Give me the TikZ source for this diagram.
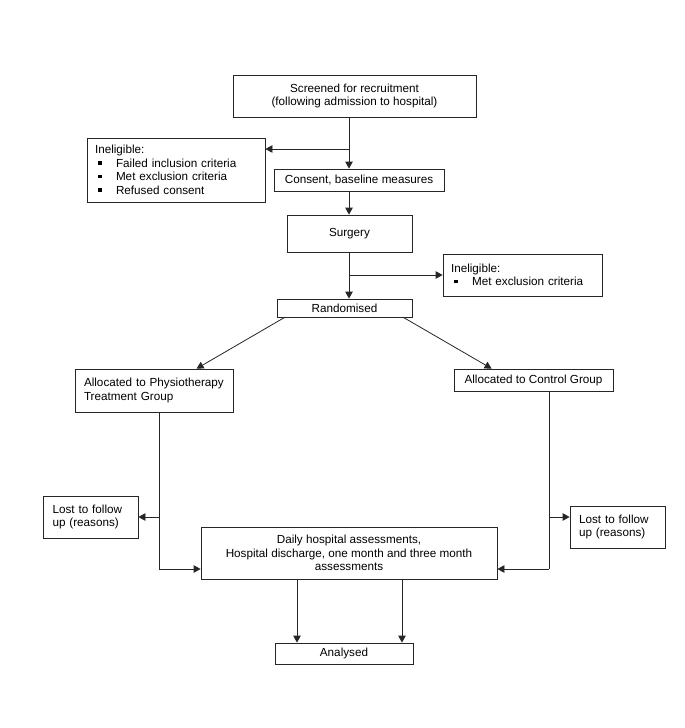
\documentclass[tikz,border=0pt]{standalone}
\usepackage{fontspec}
\setmainfont{Liberation Sans}
\usetikzlibrary{arrows.meta}
\newcommand{\sqbul}{\makebox[21pt][l]{\hspace{3pt}\rule[2.6pt]{3.5pt}{3.5pt}}}
\begin{document}
\begin{tikzpicture}[x=1pt,y=-1pt,
  box/.style={draw=black!85,line width=0.8pt,rectangle,inner sep=0pt,font=\fontsize{11.7}{13.5}\selectfont},
  cbox/.style={box,align=center},
  lbox/.style={box,align=left,inner xsep=8pt},
  arr/.style={draw=black!85,line width=0.8pt,-{Triangle[length=7pt,width=7.5pt]}},
  ln/.style={draw=black!85,line width=0.8pt}]
\useasboundingbox (0,0) rectangle (685,728);
% boxes
\node[cbox,minimum width=243pt,minimum height=42pt] (scr) at (354.5,96) {Screened for recruitment\\(following admission to hospital)};
\node[lbox,minimum width=178pt,minimum height=64pt,text width=162pt] (inel1) at (176,170) {Ineligible:\\\sqbul Failed inclusion criteria\\\sqbul Met exclusion criteria\\\sqbul Refused consent};
\node[cbox,minimum width=170pt,minimum height=22pt] (cons) at (359,180) {Consent, baseline measures};
\node[cbox,minimum width=125pt,minimum height=37pt] (surg) at (349.5,233.5) {Surgery};
\node[lbox,minimum width=159pt,minimum height=42pt,text width=143pt] (inel2) at (522.5,275) {Ineligible:\\\sqbul Met exclusion criteria};
\node[cbox,minimum width=135pt,minimum height=18pt] (rand) at (344.5,308) {Randomised};
\node[lbox,minimum width=158pt,minimum height=43pt,text width=140pt,inner xsep=9pt] (phys) at (154,390.5) {\mbox{Allocated to Physiotherapy}\\\mbox{Treatment Group}};
\node[cbox,minimum width=159pt,minimum height=22pt] (ctrl) at (533.5,380) {Allocated to Control Group};
\node[lbox,minimum width=95pt,minimum height=42pt,text width=76pt,inner xsep=9.5pt] (lostL) at (90.5,517) {\mbox{Lost to follow}\\\mbox{up (reasons)}};
\node[lbox,minimum width=95pt,minimum height=42pt,text width=77pt,inner xsep=9pt] (lostR) at (617.5,527) {\mbox{Lost to follow}\\\mbox{up (reasons)}};
\node[cbox,minimum width=296pt,minimum height=52pt] (daily) at (349,553) {Daily hospital assessments,\\Hospital discharge, one month and three month\\assessments};
\node[cbox,minimum width=138pt,minimum height=21pt] (anal) at (344,653.5) {Analysed};
% helper coordinates
\coordinate (cx) at (349,0);
\coordinate (j1) at (349,149);
\coordinate (j2) at (349,275);
\coordinate (pl) at (159,569);
\coordinate (pr) at (549,569);
\coordinate (ll) at (159,517);
\coordinate (lr) at (549,517);
\coordinate (a1) at (297,0);
\coordinate (a2) at (402,0);
% connectors
\draw[arr] (scr.south -| cx) -- (cons.north -| cx);
\draw[arr] (j1) -- (j1 -| inel1.east);
\draw[arr] (cons.south -| cx) -- (surg.north -| cx);
\draw[arr] (surg.south -| cx) -- (rand.north -| cx);
\draw[arr] (j2) -- (j2 -| inel2.west);
\draw[arr] ([xshift=8pt]rand.south west) -- ([xshift=122pt]phys.north west);
\draw[arr] ([xshift=-9pt]rand.south east) -- ([xshift=38pt]ctrl.north west);
\draw[ln] (phys.south -| pl) -- (pl);
\draw[arr] (pl) -- (pl -| daily.west);
\draw[ln] (ctrl.south -| pr) -- (pr);
\draw[arr] (pr) -- (pr -| daily.east);
\draw[arr] (ll) -- (ll -| lostL.east);
\draw[arr] (lr) -- (lr -| lostR.west);
\draw[arr] (daily.south -| a1) -- (anal.north -| a1);
\draw[arr] (daily.south -| a2) -- (anal.north -| a2);
\end{tikzpicture}
\end{document}
